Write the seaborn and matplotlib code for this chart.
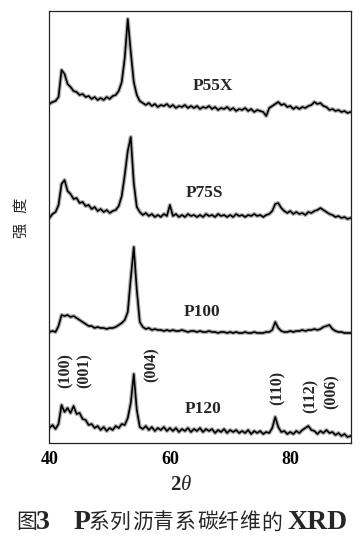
import numpy as np
import pandas as pd
import matplotlib.pyplot as plt
import seaborn as sns

# XRD patterns of P-series pitch carbon fibres (stacked)
two_theta = np.arange(40, 90.25, 0.5)

p55x = [339, 341, 342, 346, 373, 369, 359, 356, 352, 351, 348, 349, 346, 347, 344, 346, 343, 345, 343, 346,
        344, 347, 348, 352, 361, 385, 424, 391, 361, 348, 342, 340, 338, 340, 337, 339, 336, 338, 337, 339,
        336, 338, 335, 337, 336, 338, 335, 337, 335, 337, 334, 336, 335, 337, 334, 336, 333, 335, 334, 336,
        333, 335, 332, 334, 333, 335, 332, 334, 331, 333, 332, 331, 327, 335, 337, 339, 341, 338, 339, 336,
        337, 334, 336, 334, 336, 335, 337, 338, 341, 339, 340, 337, 336, 333, 334, 332, 333, 331, 332, 330,
        331]
p75s = [225, 229, 231, 238, 259, 263, 252, 249, 244, 245, 240, 241, 237, 238, 234, 236, 232, 234, 231, 233,
        230, 232, 233, 237, 247, 268, 292, 306, 260, 236, 231, 228, 230, 227, 229, 226, 228, 226, 229, 227,
        238, 227, 229, 226, 228, 226, 229, 227, 228, 226, 228, 226, 229, 227, 228, 226, 229, 227, 228, 226,
        228, 226, 229, 227, 228, 226, 228, 227, 229, 227, 228, 226, 228, 229, 232, 239, 240, 235, 232, 230,
        232, 229, 231, 229, 230, 228, 231, 230, 232, 233, 235, 233, 231, 229, 228, 226, 227, 225, 226, 224,
        225]
p100 = [111, 112, 111, 117, 128, 127, 128, 126, 127, 125, 123, 121, 119, 117, 117, 115, 116, 115, 115, 114,
        115, 115, 116, 118, 120, 123, 131, 165, 196, 153, 121, 116, 114, 115, 113, 114, 113, 113, 112, 113,
        112, 113, 112, 112, 113, 112, 111, 112, 112, 111, 112, 111, 111, 112, 111, 111, 110, 111, 111, 110,
        111, 110, 111, 110, 110, 111, 110, 110, 111, 110, 110, 110, 111, 111, 113, 121, 115, 112, 111, 111,
        112, 111, 112, 112, 113, 112, 113, 113, 114, 113, 114, 116, 117, 118, 114, 112, 111, 111, 110, 110,
        110]
p120 = [15, 18, 14, 19, 38, 31, 35, 30, 37, 29, 30, 24, 23, 18, 19, 15, 17, 13, 16, 12,
        15, 13, 17, 15, 19, 18, 25, 40, 69, 33, 16, 14, 17, 13, 16, 12, 15, 13, 16, 12,
        15, 12, 15, 11, 14, 12, 15, 11, 14, 12, 15, 11, 14, 12, 14, 10, 13, 11, 14, 10,
        13, 11, 13, 10, 12, 10, 13, 9, 12, 10, 12, 9, 11, 10, 15, 26, 16, 11, 12, 9,
        11, 9, 12, 10, 13, 15, 17, 13, 12, 9, 12, 10, 13, 10, 11, 8, 10, 7, 9, 6,
        7]

samples = ['P55X', 'P75S', 'P100', 'P120']
curves = [p55x, p75s, p100, p120]

# peak labels (hkl) and where they sit
hkl = ['(100)', '(001)', '(004)', '(110)', '(112)', '(006)']
hkl_x = [42.7, 45.8, 56.9, 77.9, 83.3, 86.8]
hkl_y = [72, 72, 78, 55, 47, 51]

name_x = [67.1, 65.7, 65.3, 65.5]
name_y = [357, 250, 131, 34]

df = pd.concat([pd.DataFrame({'2theta': two_theta, 'intensity': c, 'sample': s})
                for s, c in zip(samples, curves)])

sns.set_style('white')
plt.rcParams['font.family'] = ['Liberation Serif', 'Noto Sans CJK SC']
plt.rcParams['mathtext.fontset'] = 'custom'
plt.rcParams['mathtext.bf'] = 'Liberation Serif:bold'
plt.rcParams['mathtext.it'] = 'Liberation Serif:italic'

fig = plt.figure(figsize=(3.63, 5.37), dpi=100)
ax = fig.add_axes([49.5 / 363, 1 - 442.5 / 537, 301 / 363, 432 / 537])

# soft wide trace underneath gives the noisy look of the scan
sns.lineplot(data=df, x='2theta', y='intensity', hue='sample', palette=['black'] * 4,
             legend=False, lw=3.0, alpha=0.3, ax=ax)
sns.lineplot(data=df, x='2theta', y='intensity', hue='sample', palette=['black'] * 4,
             legend=False, lw=1.2, ax=ax)

ax.set_xlim(40, 90)
ax.set_ylim(0.5, 432.5)
ax.set_xticks([40, 60, 80])
ax.set_xticks([50, 70, 90], minor=True)
ax.set_yticks([])
ax.tick_params(axis='x', which='both', direction='out', length=4, width=0.9,
               pad=2, labelsize=13, colors='black')
for lab in ax.get_xticklabels():
    lab.set_fontweight('bold')
for sp in ax.spines.values():
    sp.set_color('#222222')
    sp.set_linewidth(0.9)
ax.set_xlabel('')
ax.set_ylabel('')

for s, x, y in zip(samples, name_x, name_y):
    ax.text(x, y, s, ha='center', va='center', fontsize=12.5, fontweight='bold')
for h, x, y in zip(hkl, hkl_x, hkl_y):
    ax.text(x, y, h, ha='center', va='center', rotation=90, fontsize=11.5, fontweight='bold')

# axis titles
fig.text(181 / 363, 1 - 485 / 537, r'$\mathbf{2}\mathit{\theta}$', ha='center', va='center', fontsize=15)
fig.text(21 / 363, 1 - 205 / 537, '度', rotation=90, ha='center', va='center',
         fontsize=11, family='Noto Sans CJK SC')
fig.text(21 / 363, 1 - 230.5 / 537, '强', rotation=90, ha='center', va='center',
         fontsize=11, family='Noto Sans CJK SC')

# caption
cap_parts = ['图', '3', 'P', '系', '列', '沥', '青', '系', '碳', '纤', '维', '的', 'XRD']
cap_x = [26.7, 42.5, 82.5, 99.5, 120, 142.5, 163, 185, 207.5, 228, 250, 271.7, 318]
for ch, x in zip(cap_parts, cap_x):
    if ch.isascii():
        fig.text(x / 363, 1 - 522.5 / 537, ch, ha='center', va='center', fontsize=20,
                 fontweight='bold', family='Liberation Serif')
    else:
        fig.text(x / 363, 1 - 522.5 / 537, ch, ha='center', va='center', fontsize=15,
                 family='Noto Sans CJK SC')

fig.savefig('out.png', dpi=100)
